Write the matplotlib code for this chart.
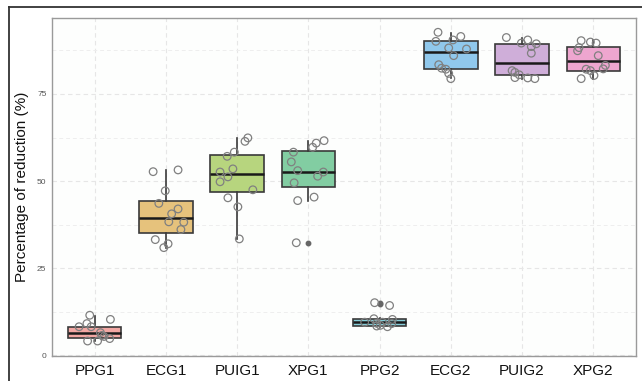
import matplotlib
matplotlib.use("Agg")
import matplotlib.pyplot as plt
from matplotlib.lines import Line2D
import numpy as np

plt.rcParams["font.family"] = ["Liberation Sans", "DejaVu Sans"]

categories = ["PPG1", "ECG1", "PUIG1", "XPG1", "PPG2", "ECG2", "PUIG2", "XPG2"]
colors = ["#F2A7A3", "#E6C27C", "#B7D57E", "#82CDA2", "#86CDD8", "#90C8EC", "#CFAED9", "#EEA6CF"]

# box statistics
q1 = [5.0, 35.2, 46.8, 48.2, 8.4, 82.1, 80.3, 81.7]
med = [6.3, 39.3, 52.1, 52.7, 9.5, 86.9, 84.0, 84.6]
q3 = [8.2, 44.4, 57.5, 58.5, 10.5, 90.1, 89.3, 88.6]
whislo = [4.1, 30.9, 33.3, 44.4, 8.2, 79.6, 79.4, 79.4]
whishi = [11.3, 53.2, 62.4, 61.6, 10.6, 92.6, 91.0, 90.5]
outliers = [[], [], [], [32.3], [15.0, 14.6], [], [], []]

# jittered observations (value, horizontal jitter in category units)
pts_ppg1 = [11.5, 10.3, 8.2, 9.1, 8.2, 4.1, 4.1, 6.5, 5.4, 4.8, 5.7]
jit_ppg1 = [-0.07, 0.22, -0.22, -0.11, -0.05, -0.10, 0.04, 0.08, 0.13, 0.21, 0.10]
pts_ecg1 = [52.7, 53.2, 47.2, 43.6, 42.0, 40.6, 38.3, 38.2, 36.1, 33.2, 32.0, 30.9]
jit_ecg1 = [-0.18, 0.17, -0.01, -0.10, 0.17, 0.08, 0.04, 0.25, 0.21, -0.15, 0.03, -0.03]
pts_puig1 = [62.4, 61.4, 58.3, 57.1, 53.5, 52.6, 51.2, 49.8, 47.5, 45.2, 42.6, 33.4]
jit_puig1 = [0.15, 0.11, -0.04, -0.14, -0.06, -0.24, -0.13, -0.24, 0.22, -0.13, 0.01, 0.03]
pts_xpg1 = [61.6, 60.9, 59.7, 58.3, 55.5, 53.0, 52.6, 51.4, 49.5, 45.4, 44.4, 32.3]
jit_xpg1 = [0.22, 0.11, 0.06, -0.21, -0.24, -0.15, 0.21, 0.13, -0.20, 0.08, -0.15, -0.17]
pts_ppg2 = [15.1, 14.3, 9.5, 10.5, 8.4, 8.6, 8.2, 10.3, 9.1, 9.5, 9.2]
jit_ppg2 = [-0.07, 0.14, -0.21, -0.08, -0.04, 0.01, 0.11, 0.18, 0.17, 0.04, -0.04]
pts_ecg2 = [92.7, 91.5, 90.5, 90.1, 88.2, 87.9, 86.0, 83.4, 82.4, 82.1, 80.9, 79.4]
jit_ecg2 = [-0.18, 0.14, 0.03, -0.21, -0.03, 0.22, 0.04, -0.17, -0.13, -0.07, -0.03, 0.0]
pts_puig2 = [91.2, 90.5, 89.6, 89.4, 88.6, 86.7, 81.7, 81.2, 80.5, 79.7, 79.6, 79.4]
jit_puig2 = [-0.22, 0.08, -0.01, 0.20, 0.13, 0.13, -0.14, -0.10, -0.04, -0.10, 0.08, 0.18]
pts_xpg2 = [90.3, 89.9, 89.6, 88.3, 87.4, 86.0, 83.2, 82.2, 82.1, 81.7, 80.3, 79.4]
jit_xpg2 = [-0.17, -0.04, 0.04, -0.20, -0.22, 0.07, 0.17, 0.14, -0.10, -0.04, 0.01, -0.17]

points = [pts_ppg1, pts_ecg1, pts_puig1, pts_xpg1, pts_ppg2, pts_ecg2, pts_puig2, pts_xpg2]
jitters = [jit_ppg1, jit_ecg1, jit_puig1, jit_xpg1, jit_ppg2, jit_ecg2, jit_puig2, jit_xpg2]

W, H, DPI = 642, 381, 100
fig = plt.figure(figsize=(W / DPI, H / DPI), dpi=DPI)
ax = fig.add_axes([52 / W, 1 - 356 / H, (636 - 52) / W, (356 - 18) / H])

positions = np.arange(1, len(categories) + 1)
stats = []
for i in range(len(categories)):
    stats.append(dict(q1=q1[i], med=med[i], q3=q3[i], whislo=whislo[i], whishi=whishi[i],
                      fliers=outliers[i], label=categories[i]))

bp = ax.bxp(stats, positions=positions, widths=0.75, patch_artist=True, showcaps=False,
            boxprops=dict(edgecolor="#3a3a3a", linewidth=1.2),
            medianprops=dict(color="#1a1a1a", linewidth=1.8),
            whiskerprops=dict(color="#3a3a3a", linewidth=1.2),
            flierprops=dict(marker="o", markersize=3.2, markerfacecolor="#666666",
                            markeredgecolor="#666666"),
            zorder=2)
for patch, c in zip(bp["boxes"], colors):
    patch.set_facecolor(c)

for i, (vals, jit) in enumerate(zip(points, jitters)):
    xs = positions[i] + np.array(jit)
    ax.scatter(xs, vals, s=30, facecolors="none", edgecolors="#808080", linewidths=0.9, zorder=3)

ax.set_xlim(0.4, 8.6)
ax.set_ylim(-0.2, 96.8)
ax.set_xticks(positions)
ax.set_xticklabels(categories, fontsize=11, color="#111111")
ax.set_yticks([0, 25, 50, 75])
ax.set_yticks([12.5, 37.5, 62.5, 87.5], minor=True)
ax.tick_params(axis="y", which="both", length=0, labelsize=6, labelcolor="#555555", pad=4)
ax.tick_params(axis="x", length=0, pad=6)
ax.grid(True, which="major", linestyle=(0, (4, 3)), color="#e6e6e6", linewidth=0.8, zorder=0)
ax.grid(True, which="minor", axis="y", linestyle=(0, (4, 3)), color="#eeeeee", linewidth=0.7, zorder=0)
ax.set_axisbelow(True)
for s in ax.spines.values():
    s.set_color("#9a9a9a")
    s.set_linewidth(1.0)
ax.set_facecolor("#fdfefd")
ax.set_ylabel("Percentage of reduction (%)", fontsize=11, color="#111111")
ax.yaxis.set_label_coords((29 - 52) / 584, 0.5)

# outer frame lines
fig.add_artist(Line2D([9 / W, 9 / W], [0, 1 - 7 / H], transform=fig.transFigure, color="#333333", linewidth=1.3))
fig.add_artist(Line2D([9 / W, 1], [1 - 7 / H, 1 - 7 / H], transform=fig.transFigure, color="#333333", linewidth=1.3))

fig.savefig("out.png", dpi=DPI)
